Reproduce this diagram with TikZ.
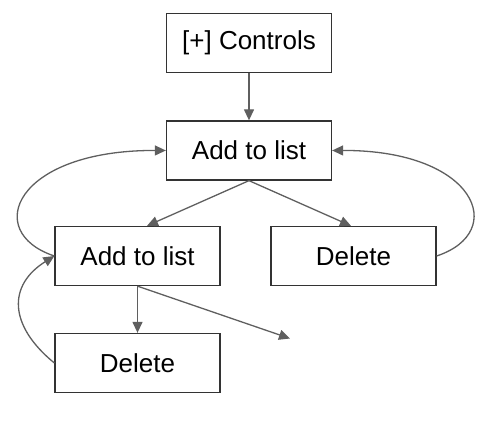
\documentclass[tikz,border=0pt]{standalone}
\usepackage{fontspec}
\setmainfont{Liberation Sans}
\usetikzlibrary{arrows.meta}
\definecolor{boxline}{HTML}{333333}
\definecolor{edgeline}{HTML}{5F5F5F}
\tikzset{
  box/.style={draw=boxline, line width=1.3pt, fill=white, minimum width=165pt, minimum height=59pt, inner sep=0pt, font=\fontsize{26}{30}\selectfont, text=black},
  conn/.style={draw=edgeline, line width=1.3pt, -{Triangle[length=11pt, width=10pt]}}
}
\begin{document}
\begin{tikzpicture}[x=1pt, y=-1pt]
\useasboundingbox (0,0) rectangle (490,427);
\node[box] (ctrl) at (249,43) {[+] Controls};
\node[box] (top) at (249,150.5) {Add to list};
\node[box] (ladd) at (137.5,256) {Add to list};
\node[box] (rdel) at (353.5,256) {Delete};
\node[box] (bdel) at (137.5,363) {Delete};
\coordinate (free) at (290,338.5);
\draw[conn] (ctrl.south) -- (top.north);
\draw[conn] (top.south) -- (ladd.north -| 147,0);
\draw[conn] (top.south) -- (rdel.north -| 351,0);
\draw[conn] (ladd.south) -- (bdel.north);
\draw[conn] (ladd.south) -- (free);
\draw[conn] (ladd.west) .. controls (-18,232) and (15,150) .. (top.west);
\draw[conn] (rdel.east) .. controls (509,232) and (476,150) .. (top.east);
\draw[conn] (bdel.west) .. controls (8,325) and (8,285) .. (ladd.west);
\end{tikzpicture}
\end{document}
